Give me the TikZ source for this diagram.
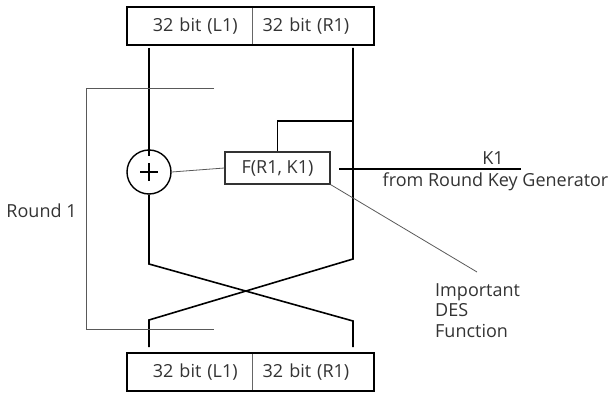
\documentclass[tikz,border=0pt]{standalone}
\usepackage{fontspec}
\setmainfont{Open Sans}
\usetikzlibrary{positioning,calc}

\begin{document}
\begin{tikzpicture}[
            x=1pt,
            y=-1pt,
            font=\fontsize{18}{20.5}\selectfont,
            text=black!80,
            cellL/.style={
                draw=black!60,
                minimum height=38pt,
                inner xsep=14pt,
                text width=96.7pt,
                align=right
            },
            cellR/.style={
                draw=black!60,
                minimum height=38pt,
                inner xsep=11pt,
                text width=100.3pt,
                align=left
            },
            frame/.style={
                draw=black,
                line width=2.4pt
            },
            xorop/.style={
                circle,
                draw=black,
                line width=1.4pt,
                minimum size=44pt,
                inner sep=0pt,
                path picture={
                    \draw[line width=1.6pt]
                        ($(path picture bounding box.center)+(-9,0)$) -- ++(18,0)
                        ($(path picture bounding box.center)+(0,-9)$) -- ++(0,18);
                }
            },
            fbox/.style={
                draw=black!80,
                line width=1.2pt,
                minimum width=105pt,
                minimum height=32pt,
                inner sep=2pt
            },
            wire/.style={
                draw=black,
                line width=1.6pt
            },
            thin/.style={
                draw=black!65,
                line width=0.8pt
            },
            lab/.style={
                align=left,
                inner sep=0pt
            }
        ]
            \useasboundingbox (0,0) rectangle (613,401);

            % Input block
            \node[cellL] (inL) at (189.35,26) {32 bit (L1)};
            \node[cellR] (inR) at (312.85,26) {32 bit (R1)};
            \draw[frame] (inL.north west) rectangle (inR.south east);

            % Output block
            \node[cellL] (outL) at (189.35,372) {32 bit (L1)};
            \node[cellR] (outR) at (312.85,372) {32 bit (R1)};
            \draw[frame] (outL.north west) rectangle (outR.south east);

            % XOR and round function
            \node[xorop] (xor) at (149,172) {};
            \node[fbox] (F) at (277.5,168) {F(R1, K1)};

            % Bends of the wires
            \coordinate (lsrc) at (149,48);
            \coordinate (rsrc) at (353,48);
            \coordinate (tap) at (353,121);
            \coordinate (lbend) at (149,264);
            \coordinate (rbend) at (353,259);
            \coordinate (lcross) at (149,320);
            \coordinate (rcross) at (353,321);
            \coordinate (ldst) at (149,347);
            \coordinate (rdst) at (353,347);

            % Left half
            \draw[wire] (lsrc) -- ([yshift=-7pt]xor.north);
            \draw[wire] (xor.south) -- (lbend) -- (rcross) -- (rdst);

            % Right half
            \draw[wire] (rsrc) -- (rbend) -- (lcross) -- (ldst);
            \draw[wire] (tap) -- (tap -| F.north) -- (F.north);

            % F output into XOR
            \draw[thin] (F.west) -- (xor.east);

            % Round key input
            \coordinate (k0) at (339,169);
            \coordinate (k1) at (521,169);
            \draw[wire] (k0) -- (k1);
            \node[lab] (kname) at (493,158) {K1};
            \node[lab] (ksrc) at (495.5,182) {from Round Key Generator};

            % Callout
            \node[lab, anchor=north west] (note) at (435,283) {Important\\DES\\Function};
            \coordinate (tip) at (477,272);
            \draw[thin] (F.south east) -- (tip);

            % Round bracket
            \draw[thin] (214,88) -- (86,88) -- (86,329) -- (214,329);
            \node[lab] (round) at (41.5,211) {Round 1};

        \end{tikzpicture}
\end{document}
